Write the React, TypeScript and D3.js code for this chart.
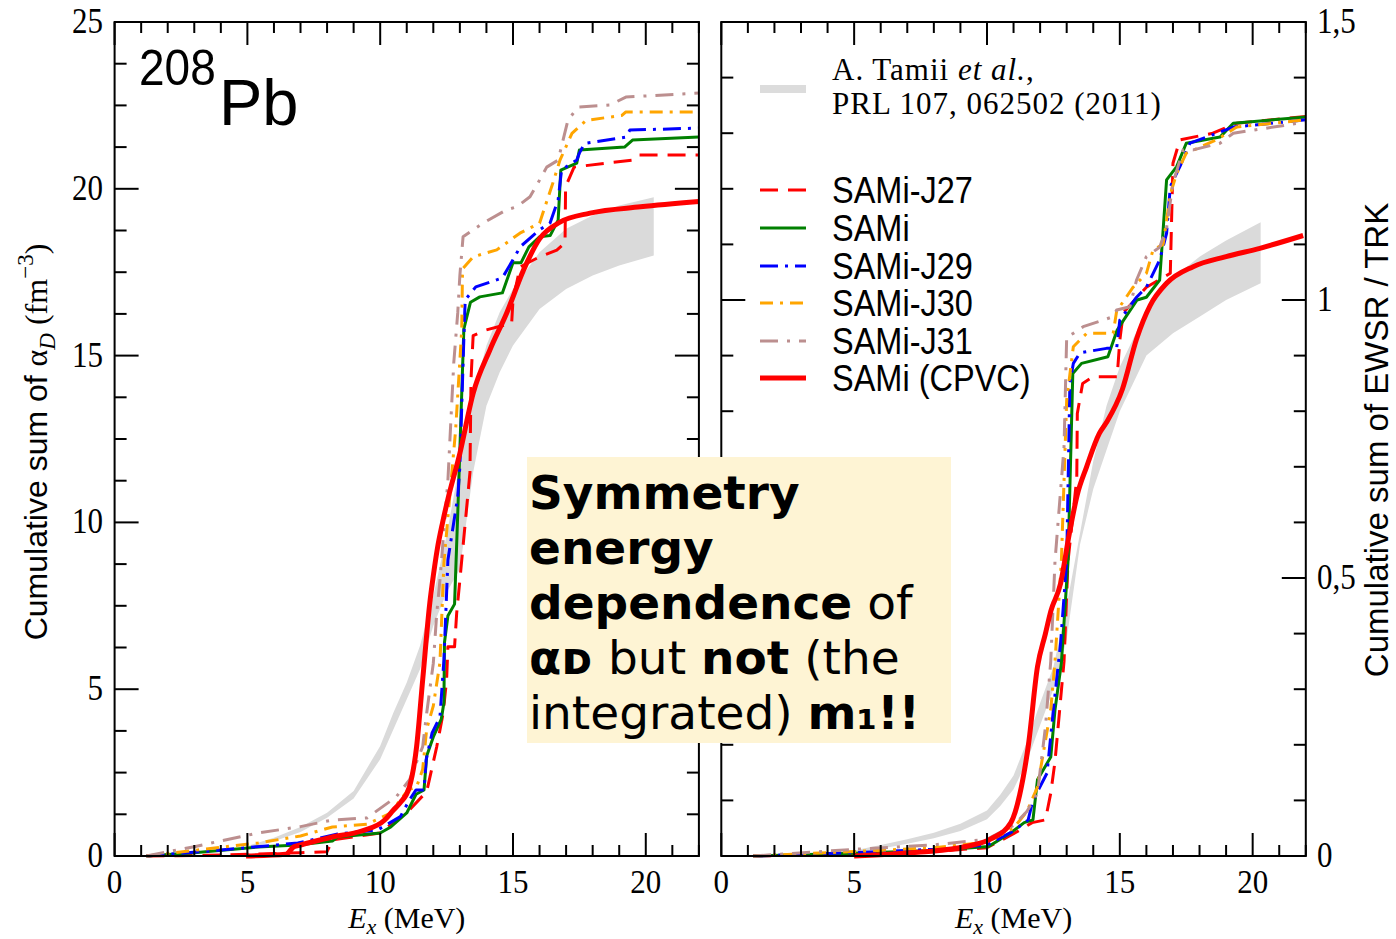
import React from 'react';
import * as d3 from 'd3';

type P = [number, number];

// ---------- tick labels ----------
const xTickValues = [0, 5, 10, 15, 20];
const xTickLabels = ['0', '5', '10', '15', '20'];
const leftYTickValues = [0, 5, 10, 15, 20, 25];
const leftYTickLabels = ['0', '5', '10', '15', '20', '25'];
const rightYTickValues = [0, 0.5, 1, 1.5];
const rightYTickLabels = ['0', '0,5', '1', '1,5'];

// ---------- experimental band (A. Tamii et al.) ----------
const bandE = [5, 6, 7, 8, 9, 10, 10.5, 11, 11.5, 12, 12.5, 13, 13.5, 14, 14.5, 15, 16, 17, 18, 19, 20.3];
const leftBandHigh = [0.3, 0.55, 0.87, 1.3, 1.95, 3.3, 4.3, 5.2, 6.3, 7.8, 9.6, 11.8, 13.8, 15.3, 16.3, 17.0, 18.1, 18.8, 19.2, 19.5, 19.75];
const leftBandLow = [0.22, 0.44, 0.72, 1.15, 1.72, 2.9, 3.8, 4.7, 5.6, 6.9, 7.9, 8.6, 11.5, 13.5, 14.5, 15.3, 16.4, 17.0, 17.4, 17.7, 18.0];
const rightBandHigh = [0.01, 0.02, 0.03, 0.042, 0.058, 0.082, 0.11, 0.145, 0.205, 0.275, 0.34, 0.45, 0.58, 0.71, 0.81, 0.88, 0.98, 1.04, 1.078, 1.107, 1.14];
const rightBandLow = [0.006, 0.013, 0.022, 0.032, 0.045, 0.066, 0.09, 0.12, 0.17, 0.235, 0.3, 0.39, 0.56, 0.66, 0.73, 0.8, 0.9, 0.94, 0.97, 1.0, 1.03];

// ---------- left panel: cumulative alpha_D (fm^3) ----------
const leftJ27: P[] = [[1.2,0],[3.5,0.02],[5,0.05],[7,0.1],[8.0,0.13],[8.2,0.48],[10.0,0.69],[11.1,1.38],[11.75,1.93],[12.13,3.28],[12.37,4.28],[12.5,5.28],[12.55,6.27],[12.8,6.27],[12.88,7.28],[13.0,8.27],[13.38,11.5],[13.42,14.3],[13.5,15.6],[14.0,15.77],[14.95,15.97],[15.0,16.67],[15.27,17.66],[16.0,17.96],[16.65,18.16],[16.96,18.38],[16.98,20.06],[17.3,20.65],[18.5,20.77],[19.5,20.86],[19.7,21.01],[22,21.01]];
const leftSAMi: P[] = [[1.2,0],[3.0,0.1],[5.4,0.27],[6.9,0.33],[8.2,0.45],[8.4,0.57],[10.0,0.69],[10.4,0.87],[11.0,1.29],[11.35,1.85],[11.65,1.98],[11.75,3.0],[12.0,3.57],[12.3,4.1],[12.4,4.6],[12.42,6.4],[12.55,7.2],[12.8,7.55],[12.86,8.9],[12.93,10.5],[13.15,15.8],[13.4,16.6],[13.75,16.76],[14.6,16.88],[15.0,17.78],[15.3,17.78],[15.6,18.26],[16.0,18.56],[16.4,18.6],[16.7,19.06],[16.8,20.56],[17.4,20.77],[17.5,21.16],[19.2,21.25],[19.5,21.46],[22,21.55]];
const leftJ29: P[] = [[1.2,0],[3.9,0.17],[6.9,0.39],[8.4,0.66],[9.9,0.78],[10.76,1.18],[11.1,1.68],[11.35,1.98],[11.65,1.98],[11.73,2.88],[11.95,3.68],[12.25,4.17],[12.4,5.88],[12.55,8.87],[12.92,10.77],[13.0,11.67],[13.14,15.27],[13.2,16.67],[13.6,17.06],[14.6,17.33],[15.0,17.87],[15.27,18.26],[16.0,18.77],[16.4,18.98],[16.7,19.67],[16.83,20.57],[17.4,20.86],[17.5,21.07],[17.7,21.36],[19.25,21.55],[19.4,21.76],[22,21.82]];
const leftJ30: P[] = [[1.2,0],[3.0,0.17],[5.4,0.39],[7.0,0.6],[8.2,0.87],[9.5,0.95],[10.37,1.28],[11.05,1.98],[11.37,2.07],[11.6,2.6],[11.75,3.8],[12.0,4.5],[12.25,5.8],[12.4,8.8],[12.84,12.77],[13.07,15.77],[13.1,17.6],[13.5,17.96],[14.39,18.17],[15.26,18.67],[16.0,18.97],[16.5,20.17],[16.77,20.86],[17.22,21.66],[17.75,22.05],[19.1,22.2],[19.24,22.3],[22,22.3]];
const leftJ31: P[] = [[1.2,0],[3.0,0.28],[5.4,0.69],[7.0,0.88],[8.2,1.08],[9.5,1.14],[10.6,1.77],[11.1,2.28],[11.6,3.28],[11.75,4.28],[12.0,5.78],[12.13,7.28],[12.25,8.27],[12.55,11.27],[12.77,14.78],[12.92,16.28],[13.0,17.4],[13.12,18.56],[13.5,18.77],[13.87,18.97],[14.76,19.37],[15.14,19.46],[15.64,19.76],[16.0,20.26],[16.27,20.65],[16.7,20.86],[17.07,22.06],[17.45,22.45],[18.65,22.51],[19.25,22.75],[22,22.87]];
const leftCPVC: P[] = [[4.95,0],[6.45,0.05],[6.75,0.28],[7.0,0.33],[8.2,0.57],[9.3,0.75],[10.17,1.08],[10.5,1.38],[10.76,1.6],[11.1,2.07],[11.37,3.27],[11.6,5.28],[11.87,7.6],[12.0,8.4],[12.15,9.2],[12.35,10.0],[12.55,10.7],[13.0,12.07],[13.5,13.87],[14.13,15.17],[14.76,16.27],[15.4,17.57],[16.0,18.5],[16.77,19.0],[17.9,19.27],[19.8,19.46],[22,19.62]];

// ---------- right panel: cumulative EWSR / TRK ----------
const rightJ27: P[] = [[1.2,0],[5,0.003],[8,0.008],[10,0.015],[11,0.04],[11.7,0.06],[12.2,0.065],[12.4,0.113],[12.56,0.17],[12.9,0.35],[13.05,0.53],[13.38,0.68],[13.4,0.796],[13.6,0.85],[14.0,0.862],[14.9,0.862],[15.0,0.928],[15.13,0.977],[16.0,1.023],[16.9,1.048],[17.0,1.246],[17.26,1.288],[18.5,1.3],[19.4,1.318],[22,1.33]];
const rightSAMi: P[] = [[1.2,0],[5,0.005],[8,0.01],[10.06,0.017],[10.9,0.042],[11.4,0.06],[11.73,0.065],[11.9,0.137],[12.4,0.178],[12.56,0.263],[12.8,0.347],[13.05,0.53],[13.23,0.868],[13.56,0.886],[14.55,0.898],[14.9,0.946],[15.23,0.97],[15.65,1.0],[16.0,1.005],[16.5,1.036],[16.76,1.216],[17.14,1.24],[17.5,1.282],[18.77,1.293],[19.27,1.318],[22,1.329]];
const rightJ29: P[] = [[1.2,0],[5,0.006],[8,0.012],[10,0.02],[11,0.045],[11.55,0.065],[11.73,0.1],[12.26,0.149],[12.5,0.263],[12.77,0.383],[13.0,0.53],[13.12,0.85],[13.25,0.886],[13.5,0.905],[14.5,0.913],[14.88,0.913],[15.0,0.964],[15.63,1.005],[16.0,1.023],[16.5,1.072],[16.76,1.12],[16.9,1.204],[17.26,1.24],[17.64,1.282],[19.27,1.311],[22,1.324]];
const rightJ30: P[] = [[1.2,0],[5,0.008],[8,0.015],[10,0.025],[11,0.05],[11.5,0.08],[11.9,0.124],[12.4,0.263],[12.56,0.35],[12.8,0.53],[13.0,0.82],[13.25,0.916],[13.75,0.94],[14.75,0.94],[14.88,0.98],[15.5,1.023],[16.0,1.048],[16.25,1.09],[16.63,1.1],[16.9,1.19],[17.14,1.228],[17.5,1.264],[18.64,1.288],[19.4,1.311],[22,1.324]];
const rightJ31: P[] = [[1.2,0],[5,0.012],[8,0.02],[10,0.03],[11,0.055],[11.5,0.08],[11.9,0.113],[12.2,0.232],[12.4,0.35],[12.56,0.53],[12.9,0.736],[13.0,0.934],[13.25,0.94],[13.62,0.952],[14.75,0.97],[14.88,0.982],[15.38,0.988],[15.63,1.036],[16.0,1.078],[16.5,1.095],[16.76,1.13],[17.0,1.21],[17.38,1.27],[17.76,1.27],[18.77,1.282],[19.27,1.3],[22,1.32]];
const rightCPVC: P[] = [[5.0,0],[7.5,0.007],[9.2,0.017],[10.2,0.032],[10.9,0.06],[11.23,0.11],[11.56,0.2],[11.9,0.34],[12.2,0.4],[12.4,0.44],[12.77,0.49],[13.1,0.58],[13.4,0.65],[13.75,0.7],[14.23,0.76],[14.5,0.78],[15.1,0.84],[15.63,0.93],[16.14,0.99],[16.76,1.03],[17.76,1.06],[19.0,1.078],[20.27,1.093],[21.9,1.116]];

// ---------- legend ----------
const seriesNames = ['SAMi-J27', 'SAMi', 'SAMi-J29', 'SAMi-J30', 'SAMi-J31', 'SAMi (CPVC)'];
const seriesColors = ['#ff0000', '#008000', '#0000ff', '#ffa500', '#bc8f8f', '#ff0000'];
const seriesDash = ['18,10', '', '18,7,3,7', '13,7,3,7', '18,9,3,9', ''];
const seriesWidth = [3, 3, 3, 3, 3, 5];
const leftSeries = [leftJ27, leftSAMi, leftJ29, leftJ30, leftJ31, leftCPVC];
const rightSeries = [rightJ27, rightSAMi, rightJ29, rightJ30, rightJ31, rightCPVC];

const SANS = '"Liberation Sans", Arial, Helvetica, sans-serif';
const SERIF = '"Liberation Serif", "Times New Roman", serif';
const BOX = '"DejaVu Sans", Verdana, sans-serif';
const STRETCH = 1.12;

const TOP = 22;
const BOTTOM = 856;

function ST({ x, y, s = STRETCH, children, ...rest }: any) {
  return (
    <text transform={`translate(${x},${y}) scale(1,${s})`} {...rest}>
      {children}
    </text>
  );
}

function Panel({ x, y, yMinorStep, yMajorStep, yMax, series, bandHigh, bandLow }: any) {
  const [x0, x1] = x.range();
  const lineGen = d3.line<P>().x((d) => x(d[0])).y((d) => y(d[1]));
  const smoothGen = d3.line<P>().x((d) => x(d[0])).y((d) => y(d[1])).curve(d3.curveMonotoneX);
  const band = d3
    .area<number>()
    .x((e) => x(e))
    .y0((_, i) => y(bandLow[i]))
    .y1((_, i) => y(bandHigh[i]));
  const xMinor = d3.range(0, 22.001, 1);
  const yMinor = d3.range(0, yMax + 1e-6, yMinorStep);
  const isMajor = (v: number, step: number) => Math.abs(v / step - Math.round(v / step)) < 1e-6;
  return (
    <g>
      <path d={band(bandE) || ''} fill="#dadada" stroke="none" />
      {series.map((s: P[], i: number) => (
        <path
          key={i}
          d={(i === 5 ? smoothGen(s) : lineGen(s)) || ''}
          fill="none"
          stroke={seriesColors[i]}
          strokeWidth={seriesWidth[i]}
          strokeDasharray={seriesDash[i] || undefined}
          strokeLinejoin="round"
        />
      ))}
      <rect x={x0} y={TOP} width={x1 - x0} height={BOTTOM - TOP} fill="none" stroke="#000" strokeWidth={2} />
      {xMinor.map((v) => {
        const len = isMajor(v, 5) ? 23 : 11;
        const px = x(v);
        return (
          <g key={'x' + v}>
            <line x1={px} x2={px} y1={BOTTOM} y2={BOTTOM - len} stroke="#000" strokeWidth={2} />
            <line x1={px} x2={px} y1={TOP} y2={TOP + len} stroke="#000" strokeWidth={2} />
          </g>
        );
      })}
      {yMinor.map((v: number) => {
        const len = isMajor(v, yMajorStep) ? 24 : 12;
        const py = y(v);
        return (
          <g key={'y' + v}>
            <line x1={x0} x2={x0 + len} y1={py} y2={py} stroke="#000" strokeWidth={2} />
            <line x1={x1} x2={x1 - len} y1={py} y2={py} stroke="#000" strokeWidth={2} />
          </g>
        );
      })}
      {xTickValues.map((v, i) => (
        <ST key={'xl' + v} x={x(v)} y={893} textAnchor="middle" fontFamily={SERIF} fontSize={31}>
          {xTickLabels[i]}
        </ST>
      ))}
      <text x={(x0 + x1) / 2} y={928} textAnchor="middle" fontFamily={SERIF} fontSize={30}>
        <tspan fontStyle="italic">E</tspan>
        <tspan fontStyle="italic" fontSize={22} dy={6}>x</tspan>
        <tspan dy={-6}> (MeV)</tspan>
      </text>
    </g>
  );
}

export default function App() {
  const xL = d3.scaleLinear().domain([0, 22]).range([114.6, 698.9]);
  const yL = d3.scaleLinear().domain([0, 25]).range([BOTTOM, TOP]);
  const xR = d3.scaleLinear().domain([0, 22]).range([721.3, 1305.8]);
  const yR = d3.scaleLinear().domain([0, 1.5]).range([BOTTOM, TOP]);

  const legendY = [190, 228, 266, 303, 341, 378];

  return (
    <svg width={1396} height={939} style={{ position: 'absolute', left: 0, top: 0, background: '#fff' }}>
      <rect x={0} y={0} width={1396} height={939} fill="#fff" />
      <Panel x={xL} y={yL} yMinorStep={1.25} yMajorStep={5} yMax={25} series={leftSeries} bandHigh={leftBandHigh} bandLow={leftBandLow} />
      <Panel x={xR} y={yR} yMinorStep={0.1} yMajorStep={0.5} yMax={1.5} series={rightSeries} bandHigh={rightBandHigh} bandLow={rightBandLow} />

      {leftYTickValues.map((v, i) => (
        <ST key={'ly' + v} x={103} y={yL(v) + 11} s={1.18} textAnchor="end" fontFamily={SERIF} fontSize={31}>
          {leftYTickLabels[i]}
        </ST>
      ))}
      {rightYTickValues.map((v, i) => (
        <ST key={'ry' + v} x={1317} y={yR(v) + 11} s={1.18} textAnchor="start" fontFamily={SERIF} fontSize={31}>
          {rightYTickLabels[i]}
        </ST>
      ))}

      {/* y axis titles */}
      <text transform="translate(47,442) rotate(-90)" textAnchor="middle" fontFamily={SANS} fontSize={32}>
        Cumulative sum of <tspan fontFamily={SERIF}>α</tspan>
        <tspan fontFamily={SERIF} fontStyle="italic" fontSize={23} dy={8}>D</tspan>
        <tspan fontFamily={SERIF} dy={-8}> (fm</tspan>
        <tspan fontFamily={SERIF} fontSize={23} dy={-14}>−3</tspan>
        <tspan fontFamily={SERIF} dy={14}>)</tspan>
      </text>
      <text transform="translate(1388,440) rotate(-90)" textAnchor="middle" fontFamily={SANS} fontSize={33}>
        Cumulative sum of EWSR / TRK
      </text>

      {/* nucleus label */}
      <ST x={139} y={85} s={1.1} fontFamily={SANS} fontSize={46}>208</ST>
      <text x={219} y={125} fontFamily={SANS} fontSize={65}>Pb</text>

      {/* legend */}
      <line x1={760} x2={806} y1={89} y2={89} stroke="#dcdcdc" strokeWidth={8} />
      <text x={832} y={80} fontFamily={SERIF} fontSize={31} letterSpacing={1}>
        A. Tamii <tspan fontStyle="italic">et al.</tspan>,
      </text>
      <text x={832} y={114} fontFamily={SERIF} fontSize={31} letterSpacing={1}>PRL 107, 062502 (2011)</text>
      {seriesNames.map((n, i) => (
        <g key={n}>
          <line
            x1={760}
            x2={806}
            y1={legendY[i]}
            y2={legendY[i]}
            stroke={seriesColors[i]}
            strokeWidth={i === 5 ? 5 : 3}
            strokeDasharray={seriesDash[i] || undefined}
          />
          <ST x={832} y={legendY[i] + 13} s={1.12} fontFamily={SANS} fontSize={32.5}>
            {n}
          </ST>
        </g>
      ))}

      {/* annotation */}
      <rect x={527} y={457} width={424} height={286} fill="#fef4d4" />
      <g fontFamily={BOX} fontSize={47} fill="#000">
        <text x={529} y={509} fontWeight="bold">Symmetry</text>
        <text x={529} y={564} fontWeight="bold">energy</text>
        <text x={529} y={619}>
          <tspan fontWeight="bold">dependence</tspan> of
        </text>
        <text x={529} y={674}>
          <tspan fontWeight="bold">αᴅ</tspan> but <tspan fontWeight="bold">not</tspan> (the
        </text>
        <text x={529} y={729}>
          integrated) <tspan fontWeight="bold">m₁!!</tspan>
        </text>
      </g>
    </svg>
  );
}
